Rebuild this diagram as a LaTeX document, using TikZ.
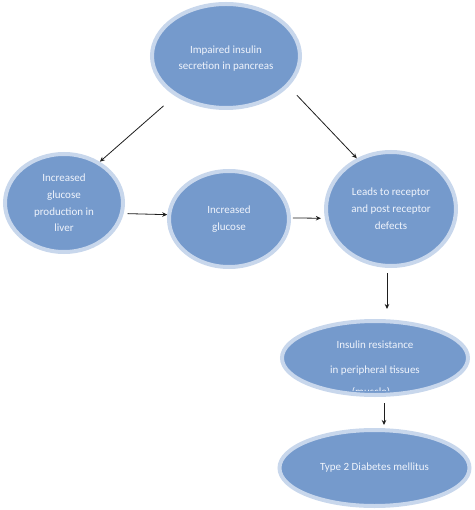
\documentclass[tikz,border=0pt]{standalone}
\usepackage{fontspec}
\setmainfont{Carlito}
\usetikzlibrary{shapes.geometric,arrows.meta}
\definecolor{bubfill}{RGB}{117,154,204}
\definecolor{bubring}{RGB}{200,215,236}
\definecolor{bubtext}{RGB}{240,244,252}
\definecolor{arrcol}{RGB}{30,30,30}
\tikzset{
  bubble/.style={ellipse, fill=bubfill, draw=bubring, line width=4pt, inner sep=0pt,
    align=center, text=bubtext, font=\fontsize{11}{16.8}\selectfont},
  bubtxt/.style={inner sep=0pt, align=center, text=bubtext, font=\fontsize{11}{16.8}\selectfont},
  arr/.style={draw=arrcol, line width=0.8pt, -{Stealth[length=5pt,width=4.5pt]}}
}
\begin{document}
\begin{tikzpicture}[x=1pt,y=-1pt]
\useasboundingbox (0,0) rectangle (474,510);
\node[bubble, minimum width=148pt, minimum height=104pt] (T) at (226,56) {\\[-4pt]Impaired insulin\\secretion in pancreas};
\node[bubble, minimum width=118pt, minimum height=98pt] (L) at (64,203) {Increased\\glucose\\production in\\liver};
\node[bubble, minimum width=120pt, minimum height=96pt] (M) at (229,219) {Increased\\glucose};
\node[bubble, minimum width=130pt, minimum height=114pt] (R) at (391,209) {Leads to receptor\\and post receptor\\defects};
\node[bubble, minimum width=186pt, minimum height=74pt] (I) at (375,358) {Insulin resistance\\[9pt]in peripheral tissues};
\node[bubble, minimum width=190pt, minimum height=76pt] (D) at (374.5,468) {Type 2 Diabetes mellitus};
\begin{scope}
  \clip (280,370) rectangle (470,390.5);
  \node[bubtxt] (musc) at (371,392) {(muscle)};
\end{scope}
\draw[arr, shorten <=15pt] (T.218) -- (L.49);
\draw[arr, shorten <=12pt] (T.334) -- (R.124);
\draw[arr, shorten <=4pt] (L.-10.6) -- (M.176);
\draw[arr, shorten <=2pt, shorten >=4pt] (M.1) -- (R.188);
\draw[arr, shorten <=5pt, shorten >=10pt] ([xshift=-4pt]R.south) -- ([xshift=-4pt]R.south |- I.north);
\draw[arr, shorten <=6pt, shorten >=3pt] ([xshift=9pt]I.south) -- ([xshift=9pt]I.south |- D.north);
\end{tikzpicture}
\end{document}
